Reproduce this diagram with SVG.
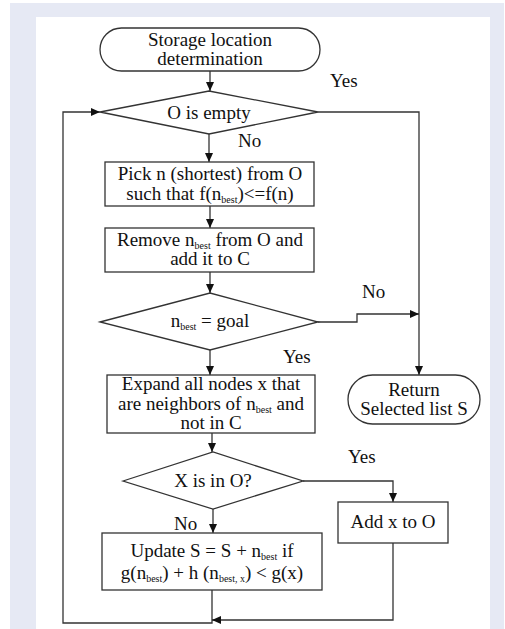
<svg xmlns="http://www.w3.org/2000/svg" width="505" height="629" viewBox="0 0 505 629">
<defs>
<marker id="a" viewBox="0 0 10 10" refX="10" refY="5" markerWidth="9" markerHeight="8" markerUnits="userSpaceOnUse" orient="auto" preserveAspectRatio="none">
<path d="M0,0 L10,5 L0,10 z" fill="#111"/>
</marker>
</defs>
<rect x="0" y="0" width="505" height="629" fill="#fff"/>
<rect x="10" y="3" width="494" height="626" fill="#e6e9f4"/>
<rect x="36" y="17" width="454" height="612" fill="#fff"/>

<g id="connectors" fill="none" stroke="#333" stroke-width="1.3">
<path d="M210,71 V91" marker-end="url(#a)"/>
<path d="M209,134 V162" marker-end="url(#a)"/>
<path d="M318,112 H419 V375" marker-end="url(#a)"/>
<path d="M210,206 V228" marker-end="url(#a)"/>
<path d="M210,272 V293" marker-end="url(#a)"/>
<path d="M318,322 H357 V314 H419" marker-end="url(#a)"/>
<path d="M210,350 V375" marker-end="url(#a)"/>
<path d="M212,433 V452" marker-end="url(#a)"/>
<path d="M303,481 H393 V502" marker-end="url(#a)"/>
<path d="M213,509 V533" marker-end="url(#a)"/>
<path d="M212,590 V623 H63 V112 H100" marker-end="url(#a)"/>
<path d="M393,543 V620 H212" marker-end="url(#a)"/>
</g>

<g fill="#fff" stroke="#333" stroke-width="1.3">
<g id="start"><rect x="100" y="28" width="220" height="43" rx="21.5"/></g>
<g id="o-empty"><path d="M100,112 L209,91 L318,112 L209,134 z"/></g>
<g id="pick"><rect x="105" y="162" width="209" height="44"/></g>
<g id="remove"><rect x="105" y="228" width="209" height="44"/></g>
<g id="goal"><path d="M100,322 L210,293 L318,322 L210,350 z"/></g>
<g id="expand"><rect x="107" y="375" width="208" height="58"/></g>
<g id="return"><rect x="348" y="375" width="132" height="49" rx="24.5"/></g>
<g id="x-in-o"><path d="M123,481 L213,452 L303,481 L213,509 z"/></g>
<g id="add"><rect x="338" y="502" width="110" height="41"/></g>
<g id="update"><rect x="102" y="533" width="220" height="57"/></g>
</g>

<g id="labels" fill="#111" font-family="Liberation Serif" font-size="19">
<text x="210" y="46" text-anchor="middle">Storage location</text>
<text x="210" y="65" text-anchor="middle">determination</text>
<text x="209" y="119" text-anchor="middle">O is empty</text>
<text x="330" y="87">Yes</text>
<text x="238" y="147">No</text>
<text x="210" y="180" text-anchor="middle">Pick n (shortest) from O</text>
<text x="210" y="200" text-anchor="middle">such that f(n<tspan font-size="10" dy="3">best</tspan><tspan dy="-3">)&lt;=f(n)</tspan></text>
<text x="210" y="246" text-anchor="middle">Remove n<tspan font-size="10" dy="3">best</tspan><tspan dy="-3"> from O and</tspan></text>
<text x="210" y="265" text-anchor="middle">add it to C</text>
<text x="210" y="327" text-anchor="middle">n<tspan font-size="10" dy="3">best</tspan><tspan dy="-3"> = goal</tspan></text>
<text x="362" y="298">No</text>
<text x="283" y="363">Yes</text>
<text x="211" y="390" text-anchor="middle">Expand all nodes x that</text>
<text x="211" y="410" text-anchor="middle">are neighbors of n<tspan font-size="10" dy="3">best</tspan><tspan dy="-3"> and</tspan></text>
<text x="211" y="429" text-anchor="middle">not in C</text>
<text x="414" y="396" text-anchor="middle">Return</text>
<text x="414" y="415" text-anchor="middle">Selected list S</text>
<text x="213" y="487" text-anchor="middle">X is in O?</text>
<text x="348" y="463">Yes</text>
<text x="174" y="530">No</text>
<text x="393" y="528" text-anchor="middle">Add x to O</text>
<text x="212" y="557" text-anchor="middle">Update S = S + n<tspan font-size="10" dy="3">best</tspan><tspan dy="-3"> if</tspan></text>
<text x="212" y="579" text-anchor="middle">g(n<tspan font-size="10" dy="3">best</tspan><tspan dy="-3">) + h (n</tspan><tspan font-size="10" dy="3">best, x</tspan><tspan dy="-3">) &lt; g(x)</tspan></text>
</g>
</svg>
